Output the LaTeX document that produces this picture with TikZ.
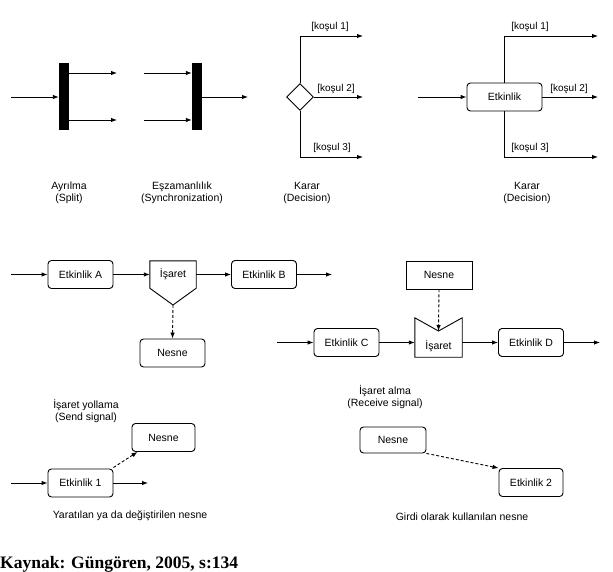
\documentclass[tikz,border=0pt]{standalone}
\usepackage{fontspec}
\setmainfont{Liberation Sans}
\newfontfamily\capfont{Liberation Serif}
\usetikzlibrary{shapes.geometric,arrows.meta}
\tikzset{
  ln/.style={line width=0.9pt},
  arr/.style={ln,-{Latex[length=6pt,width=4.5pt]}},
  darr/.style={arr,dashed,dash pattern=on 3pt off 2pt},
  txt/.style={font=\fontsize{10.5}{12.5}\selectfont},
  act/.style={draw,ln,rounded corners=3.5pt,minimum height=28pt,minimum width=65pt,inner sep=0pt,txt},
  obj/.style={act},
  bar/.style={fill=black,draw=none,minimum width=10pt,minimum height=67pt,inner sep=0pt},
  lbl/.style={txt,inner sep=0pt,align=center},
  cond/.style={font=\fontsize{10}{12}\selectfont,inner sep=0pt,anchor=base},
}
\begin{document}
\begin{tikzpicture}[x=1pt,y=-1pt]
\useasboundingbox (0,0) rectangle (613,572);
% ---------- Split
\node[bar] (split) at (64,96.5) {};
\coordinate (splitin) at (11,97);
\coordinate (splito1) at (117,73);
\coordinate (splito2) at (117,120);
\draw[arr] (splitin) -- (splitin -| split.west);
\draw[arr] (splito1 -| split.east) -- (splito1);
\draw[arr] (splito2 -| split.east) -- (splito2);
\node[lbl] (splitlbl) at (69,193) {Ayrılma\\(Split)};
% ---------- Sync
\node[bar] (sync) at (197,96.5) {};
\coordinate (synci1) at (144,73);
\coordinate (synci2) at (144,120);
\coordinate (syncout) at (248,97);
\draw[arr] (synci1) -- (synci1 -| sync.west);
\draw[arr] (synci2) -- (synci2 -| sync.west);
\draw[arr] (syncout -| sync.east) -- (syncout);
\node[lbl] (synclbl) at (182,193) {Eşzamanlılık\\(Synchronization)};
% ---------- Decision (diamond)
\node[diamond,draw,ln,minimum size=27pt,inner sep=0pt] (dia) at (300,97) {};
\coordinate (d1) at (363,36);
\coordinate (d2) at (363,97);
\coordinate (d3) at (363,157);
\draw[arr] (dia.north) |- (d1);
\draw[arr] (dia.east) -- (d2);
\draw[arr] (dia.south) |- (d3);
\node[cond] (dk1) at (330,30) {[koşul 1]};
\node[cond] (dk2) at (336,92) {[koşul 2]};
\node[cond] (dk3) at (332,151) {[koşul 3]};
\node[lbl] (dialbl) at (307,193) {Karar\\(Decision)};
% ---------- Decision (activity)
\node[act,minimum width=75pt] (etk) at (504.5,97) {Etkinlik};
\coordinate (ein) at (418,97);
\coordinate (e1) at (598,36);
\coordinate (e2) at (598,97);
\coordinate (e3) at (598,157);
\draw[arr] (ein) -- (etk.west);
\draw[arr] (etk.north) |- (e1);
\draw[arr] (etk.east) -- (e2);
\draw[arr] (etk.south) |- (e3);
\node[cond] (ek1) at (530,30) {[koşul 1]};
\node[cond] (ek2) at (569,92) {[koşul 2]};
\node[cond] (ek3) at (530,151) {[koşul 3]};
\node[lbl] (etklbl) at (527,193) {Karar\\(Decision)};
% ---------- Send signal
\coordinate (ain) at (11,274.5);
\node[act] (etkA) at (80.5,274.5) {Etkinlik A};
\node[inner sep=0pt,minimum width=46pt,minimum height=27pt,txt] (send) at (173,274.5) {İşaret};
\coordinate (sendtip) at (173,305);
\draw[ln,line join=miter] (send.north west) -- (send.north east) -- (send.south east) -- (sendtip) -- (send.south west) -- cycle;
\node[act] (etkB) at (264,274.5) {Etkinlik B};
\coordinate (bout) at (332,274.5);
\node[obj] (nes1) at (172.5,353) {Nesne};
\draw[arr] (ain) -- (etkA.west);
\draw[arr] (etkA.east) -- (send.west);
\draw[arr] (send.east) -- (etkB.west);
\draw[arr] (etkB.east) -- (bout);
\draw[darr] (sendtip) -- (nes1.north);
\node[lbl] (sendlbl) at (86,411) {İşaret yollama\\(Send signal)};
% ---------- Receive signal
\node[draw,ln,minimum width=66pt,minimum height=28pt,inner sep=0pt,txt] (nes2) at (439,275) {Nesne};
\coordinate (cin) at (277,342.5);
\node[act] (etkC) at (346.5,342.5) {Etkinlik C};
\node[inner sep=0pt,minimum width=47pt,minimum height=39pt] (rcv) at (438.5,337.5) {};
\coordinate (notch) at (438.5,331);
\draw[ln,line join=miter] (rcv.north west) -- (notch) -- (rcv.north east) -- (rcv.south east) -- (rcv.south west) -- cycle;
\node[txt,inner sep=0pt] (rcvtxt) at (438.5,346) {İşaret};
\node[act] (etkD) at (531,342.5) {Etkinlik D};
\coordinate (dout) at (600,342.5);
\draw[arr] (cin) -- (etkC.west);
\draw[arr] (etkC.east) -- (etkC.east -| rcv.west);
\draw[arr] (etkD.west -| rcv.east) -- (etkD.west);
\draw[arr] (etkD.east) -- (dout);
\draw[darr] (nes2.south) -- (notch);
\node[lbl] (rcvlbl) at (385,397) {İşaret alma\\(Receive signal)};
% ---------- Created / changed object
\node[obj,minimum width=63pt] (nes3) at (163.5,437.5) {Nesne};
\node[act] (etk1) at (80.5,483) {Etkinlik 1};
\coordinate (in1) at (11,483);
\coordinate (out1) at (148,483);
\coordinate (e1ne) at ([yshift=1pt]etk1.north east);
\coordinate (n3b) at ([xshift=6pt]nes3.south west);
\draw[arr] (in1) -- (etk1.west);
\draw[arr] (etk1.east) -- (out1);
\draw[darr] (e1ne) -- (n3b);
\node[lbl] (crlbl) at (130,516) {Yaratılan ya da değiştirilen nesne};
% ---------- Input object
\node[obj,minimum width=66pt,minimum height=26pt] (nes4) at (393,440) {Nesne};
\node[act,minimum width=64pt] (etk2) at (531,482.5) {Etkinlik 2};
\draw[darr] (nes4.south east) -- (etk2.north west);
\node[lbl] (inlbl) at (462,517) {Girdi olarak kullanılan nesne};
% ---------- Source
\node[font=\capfont\bfseries\fontsize{17.5}{20}\selectfont,anchor=base west,inner sep=0pt] (src) at (0,568) {Kaynak: Güngören, 2005, s:134};
\end{tikzpicture}
\end{document}
